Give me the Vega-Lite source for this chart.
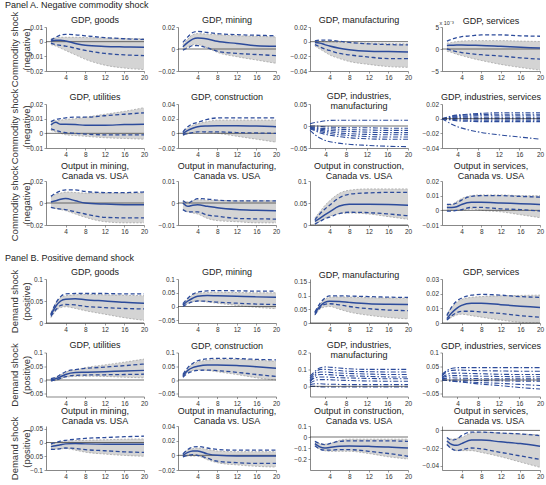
{
"$schema": "https://vega.github.io/schema/vega-lite/v6.json",
"padding": {"left": 5, "top": 1, "right": 2, "bottom": 0},
"autosize": {"type": "pad"},
"datasets": {
"irf": [
{"p":"a1","h":1,"lo":-0.002,"dl":-0.001,"m":0.0005,"du":0.001,"hi":0.002},
{"p":"a1","h":2,"lo":-0.003,"dl":-0.002,"m":0.001,"du":0.003,"hi":0.0025},
{"p":"a1","h":3,"lo":-0.0045,"dl":-0.0025,"m":0.001,"du":0.0045,"hi":0.003},
{"p":"a1","h":4,"lo":-0.006,"dl":-0.003,"m":0.0005,"du":0.005,"hi":0.003},
{"p":"a1","h":6,"lo":-0.009,"dl":-0.0045,"m":-0.0012,"du":0.0047,"hi":0.003},
{"p":"a1","h":8,"lo":-0.012,"dl":-0.006,"m":-0.0025,"du":0.004,"hi":0.0028},
{"p":"a1","h":12,"lo":-0.016,"dl":-0.008,"m":-0.0033,"du":0.0028,"hi":0.0025},
{"p":"a1","h":16,"lo":-0.018,"dl":-0.009,"m":-0.0036,"du":0.002,"hi":0.0022},
{"p":"a1","h":20,"lo":-0.019,"dl":-0.0095,"m":-0.0038,"du":0.0015,"hi":0.002},
{"p":"a2","h":1,"lo":-0.001,"dl":-0.001,"m":0.002,"du":0.006,"hi":0.004},
{"p":"a2","h":2,"lo":0.002,"dl":0.001,"m":0.006,"du":0.011,"hi":0.009},
{"p":"a2","h":3,"lo":0.004,"dl":0.003,"m":0.009,"du":0.015,"hi":0.013},
{"p":"a2","h":4,"lo":0.004,"dl":0.003,"m":0.010,"du":0.016,"hi":0.014},
{"p":"a2","h":6,"lo":0.001,"dl":0.001,"m":0.009,"du":0.015,"hi":0.0135},
{"p":"a2","h":8,"lo":-0.003,"dl":-0.002,"m":0.007,"du":0.014,"hi":0.013},
{"p":"a2","h":12,"lo":-0.007,"dl":-0.004,"m":0.005,"du":0.013,"hi":0.012},
{"p":"a2","h":16,"lo":-0.010,"dl":-0.005,"m":0.003,"du":0.0125,"hi":0.0115},
{"p":"a2","h":20,"lo":-0.013,"dl":-0.006,"m":0.0025,"du":0.012,"hi":0.011},
{"p":"a3","h":1,"lo":-0.006,"dl":-0.004,"m":-0.001,"du":0.001,"hi":0.0005},
{"p":"a3","h":2,"lo":-0.010,"dl":-0.007,"m":-0.002,"du":0.002,"hi":0.0005},
{"p":"a3","h":3,"lo":-0.014,"dl":-0.010,"m":-0.004,"du":0.002,"hi":0.0},
{"p":"a3","h":4,"lo":-0.018,"dl":-0.012,"m":-0.006,"du":0.002,"hi":0.0},
{"p":"a3","h":6,"lo":-0.023,"dl":-0.016,"m":-0.009,"du":0.0005,"hi":-0.001},
{"p":"a3","h":8,"lo":-0.027,"dl":-0.018,"m":-0.011,"du":-0.001,"hi":-0.0015},
{"p":"a3","h":12,"lo":-0.031,"dl":-0.021,"m":-0.013,"du":-0.003,"hi":-0.002},
{"p":"a3","h":16,"lo":-0.034,"dl":-0.023,"m":-0.0135,"du":-0.004,"hi":-0.0025},
{"p":"a3","h":20,"lo":-0.035,"dl":-0.023,"m":-0.014,"du":-0.0045,"hi":-0.003},
{"p":"a4","h":1,"lo":-0.5,"dl":0.0,"m":0.8,"du":1.8,"hi":1.3},
{"p":"a4","h":2,"lo":-0.8,"dl":-0.3,"m":0.85,"du":2.2,"hi":1.5},
{"p":"a4","h":3,"lo":-1.2,"dl":-0.6,"m":0.9,"du":2.6,"hi":1.7},
{"p":"a4","h":4,"lo":-1.5,"dl":-0.8,"m":0.9,"du":2.8,"hi":1.8},
{"p":"a4","h":6,"lo":-2.1,"dl":-1.1,"m":0.85,"du":3.0,"hi":1.9},
{"p":"a4","h":8,"lo":-2.6,"dl":-1.3,"m":0.8,"du":3.2,"hi":1.9},
{"p":"a4","h":12,"lo":-3.5,"dl":-1.6,"m":0.6,"du":3.2,"hi":1.9},
{"p":"a4","h":16,"lo":-4.2,"dl":-2.0,"m":0.4,"du":3.0,"hi":1.8},
{"p":"a4","h":20,"lo":-4.8,"dl":-2.3,"m":0.2,"du":2.9,"hi":1.7},
{"p":"a5","h":1,"lo":0.002,"dl":0.003,"m":0.0058,"du":0.008,"hi":0.008},
{"p":"a5","h":2,"lo":0.001,"dl":0.002,"m":0.0075,"du":0.0095,"hi":0.0085},
{"p":"a5","h":3,"lo":0.0,"dl":0.001,"m":0.0062,"du":0.010,"hi":0.009},
{"p":"a5","h":4,"lo":-0.001,"dl":0.0005,"m":0.0062,"du":0.0105,"hi":0.0095},
{"p":"a5","h":6,"lo":-0.0015,"dl":0.0,"m":0.006,"du":0.011,"hi":0.010},
{"p":"a5","h":8,"lo":-0.002,"dl":-0.0005,"m":0.0055,"du":0.011,"hi":0.011},
{"p":"a5","h":12,"lo":-0.003,"dl":-0.001,"m":0.0055,"du":0.012,"hi":0.013},
{"p":"a5","h":16,"lo":-0.0035,"dl":-0.001,"m":0.006,"du":0.013,"hi":0.015},
{"p":"a5","h":20,"lo":-0.004,"dl":-0.001,"m":0.0062,"du":0.014,"hi":0.0175},
{"p":"a6","h":1,"lo":-0.003,"dl":-0.002,"m":0.0,"du":0.002,"hi":0.002},
{"p":"a6","h":2,"lo":-0.001,"dl":0.0,"m":0.004,"du":0.009,"hi":0.007},
{"p":"a6","h":3,"lo":0.001,"dl":0.001,"m":0.007,"du":0.013,"hi":0.011},
{"p":"a6","h":4,"lo":0.002,"dl":0.002,"m":0.009,"du":0.015,"hi":0.013},
{"p":"a6","h":6,"lo":0.001,"dl":0.002,"m":0.010,"du":0.019,"hi":0.016},
{"p":"a6","h":8,"lo":0.0,"dl":0.002,"m":0.0105,"du":0.021,"hi":0.018},
{"p":"a6","h":12,"lo":-0.004,"dl":0.001,"m":0.0105,"du":0.021,"hi":0.018},
{"p":"a6","h":16,"lo":-0.008,"dl":0.0005,"m":0.010,"du":0.021,"hi":0.018},
{"p":"a6","h":20,"lo":-0.012,"dl":0.0,"m":0.009,"du":0.021,"hi":0.018},
{"p":"a9","h":1,"lo":-0.004,"dl":-0.004,"m":0.001,"du":0.006,"hi":0.005},
{"p":"a9","h":2,"lo":-0.005,"dl":-0.005,"m":0.002,"du":0.009,"hi":0.008},
{"p":"a9","h":3,"lo":-0.006,"dl":-0.0055,"m":0.0035,"du":0.011,"hi":0.009},
{"p":"a9","h":4,"lo":-0.007,"dl":-0.006,"m":0.004,"du":0.012,"hi":0.010},
{"p":"a9","h":6,"lo":-0.010,"dl":-0.008,"m":0.002,"du":0.012,"hi":0.0095},
{"p":"a9","h":8,"lo":-0.013,"dl":-0.010,"m":0.0,"du":0.0105,"hi":0.009},
{"p":"a9","h":12,"lo":-0.017,"dl":-0.013,"m":-0.001,"du":0.0095,"hi":0.009},
{"p":"a9","h":16,"lo":-0.018,"dl":-0.0135,"m":-0.0015,"du":0.0095,"hi":0.009},
{"p":"a9","h":20,"lo":-0.018,"dl":-0.0135,"m":-0.0015,"du":0.010,"hi":0.009},
{"p":"a10","h":1,"lo":-0.003,"dl":-0.003,"m":0.0,"du":0.001,"hi":0.001},
{"p":"a10","h":2,"lo":-0.004,"dl":-0.004,"m":-0.0015,"du":0.0,"hi":0.0005},
{"p":"a10","h":3,"lo":-0.0045,"dl":-0.004,"m":-0.001,"du":0.001,"hi":0.001},
{"p":"a10","h":4,"lo":-0.005,"dl":-0.004,"m":-0.0008,"du":0.002,"hi":0.0015},
{"p":"a10","h":6,"lo":-0.007,"dl":-0.0055,"m":-0.0015,"du":0.0018,"hi":0.0013},
{"p":"a10","h":8,"lo":-0.008,"dl":-0.006,"m":-0.0022,"du":0.0013,"hi":0.0012},
{"p":"a10","h":12,"lo":-0.0085,"dl":-0.007,"m":-0.003,"du":0.001,"hi":0.001},
{"p":"a10","h":16,"lo":-0.009,"dl":-0.0072,"m":-0.0033,"du":0.001,"hi":0.001},
{"p":"a10","h":20,"lo":-0.009,"dl":-0.0073,"m":-0.0035,"du":0.001,"hi":0.001},
{"p":"a11","h":1,"lo":0.003,"dl":0.002,"m":0.008,"du":0.012,"hi":0.016},
{"p":"a11","h":2,"lo":0.008,"dl":0.008,"m":0.015,"du":0.025,"hi":0.030},
{"p":"a11","h":3,"lo":0.015,"dl":0.014,"m":0.023,"du":0.036,"hi":0.044},
{"p":"a11","h":4,"lo":0.020,"dl":0.018,"m":0.030,"du":0.045,"hi":0.055},
{"p":"a11","h":6,"lo":0.026,"dl":0.026,"m":0.043,"du":0.062,"hi":0.072},
{"p":"a11","h":8,"lo":0.027,"dl":0.029,"m":0.047,"du":0.070,"hi":0.079},
{"p":"a11","h":12,"lo":0.025,"dl":0.028,"m":0.047,"du":0.073,"hi":0.082},
{"p":"a11","h":16,"lo":0.019,"dl":0.025,"m":0.0465,"du":0.074,"hi":0.082},
{"p":"a11","h":20,"lo":0.013,"dl":0.021,"m":0.045,"du":0.074,"hi":0.082},
{"p":"a12","h":1,"lo":0.0,"dl":-0.0005,"m":0.002,"du":0.004,"hi":0.003},
{"p":"a12","h":2,"lo":0.0,"dl":-0.0005,"m":0.002,"du":0.004,"hi":0.004},
{"p":"a12","h":3,"lo":0.0,"dl":0.0,"m":0.0025,"du":0.005,"hi":0.006},
{"p":"a12","h":4,"lo":0.0,"dl":0.0005,"m":0.004,"du":0.007,"hi":0.008},
{"p":"a12","h":6,"lo":0.001,"dl":0.002,"m":0.0055,"du":0.0095,"hi":0.010},
{"p":"a12","h":8,"lo":0.0,"dl":0.002,"m":0.0055,"du":0.010,"hi":0.0105},
{"p":"a12","h":12,"lo":-0.001,"dl":0.001,"m":0.005,"du":0.010,"hi":0.0105},
{"p":"a12","h":16,"lo":-0.003,"dl":0.0005,"m":0.0045,"du":0.0095,"hi":0.010},
{"p":"a12","h":20,"lo":-0.005,"dl":-0.0005,"m":0.004,"du":0.009,"hi":0.010},
{"p":"b1","h":1,"lo":0.012,"dl":0.015,"m":0.018,"du":0.020,"hi":0.022},
{"p":"b1","h":2,"lo":0.027,"dl":0.030,"m":0.038,"du":0.045,"hi":0.045},
{"p":"b1","h":3,"lo":0.035,"dl":0.040,"m":0.050,"du":0.060,"hi":0.058},
{"p":"b1","h":4,"lo":0.037,"dl":0.042,"m":0.054,"du":0.066,"hi":0.062},
{"p":"b1","h":6,"lo":0.033,"dl":0.041,"m":0.055,"du":0.067,"hi":0.064},
{"p":"b1","h":8,"lo":0.028,"dl":0.038,"m":0.053,"du":0.067,"hi":0.065},
{"p":"b1","h":12,"lo":0.020,"dl":0.035,"m":0.050,"du":0.067,"hi":0.064},
{"p":"b1","h":16,"lo":0.012,"dl":0.033,"m":0.047,"du":0.066,"hi":0.063},
{"p":"b1","h":20,"lo":0.006,"dl":0.032,"m":0.045,"du":0.066,"hi":0.062},
{"p":"b2","h":1,"lo":0.002,"dl":0.0,"m":0.005,"du":0.010,"hi":0.008},
{"p":"b2","h":2,"lo":0.012,"dl":0.010,"m":0.020,"du":0.030,"hi":0.028},
{"p":"b2","h":3,"lo":0.018,"dl":0.017,"m":0.030,"du":0.045,"hi":0.042},
{"p":"b2","h":4,"lo":0.020,"dl":0.020,"m":0.037,"du":0.052,"hi":0.048},
{"p":"b2","h":6,"lo":0.016,"dl":0.019,"m":0.040,"du":0.057,"hi":0.051},
{"p":"b2","h":8,"lo":0.012,"dl":0.016,"m":0.039,"du":0.058,"hi":0.052},
{"p":"b2","h":12,"lo":0.004,"dl":0.012,"m":0.037,"du":0.057,"hi":0.051},
{"p":"b2","h":16,"lo":-0.003,"dl":0.009,"m":0.035,"du":0.056,"hi":0.050},
{"p":"b2","h":20,"lo":-0.008,"dl":0.007,"m":0.034,"du":0.056,"hi":0.050},
{"p":"b3","h":1,"lo":0.028,"dl":0.030,"m":0.035,"du":0.040,"hi":0.040},
{"p":"b3","h":2,"lo":0.050,"dl":0.055,"m":0.060,"du":0.070,"hi":0.068},
{"p":"b3","h":3,"lo":0.058,"dl":0.068,"m":0.075,"du":0.090,"hi":0.086},
{"p":"b3","h":4,"lo":0.060,"dl":0.070,"m":0.079,"du":0.099,"hi":0.094},
{"p":"b3","h":6,"lo":0.050,"dl":0.066,"m":0.078,"du":0.099,"hi":0.095},
{"p":"b3","h":8,"lo":0.040,"dl":0.060,"m":0.075,"du":0.098,"hi":0.094},
{"p":"b3","h":12,"lo":0.028,"dl":0.052,"m":0.070,"du":0.096,"hi":0.092},
{"p":"b3","h":16,"lo":0.020,"dl":0.047,"m":0.068,"du":0.094,"hi":0.091},
{"p":"b3","h":20,"lo":0.015,"dl":0.045,"m":0.067,"du":0.093,"hi":0.090},
{"p":"b4","h":1,"lo":0.002,"dl":0.002,"m":0.003,"du":0.005,"hi":0.006},
{"p":"b4","h":2,"lo":0.004,"dl":0.005,"m":0.007,"du":0.011,"hi":0.011},
{"p":"b4","h":3,"lo":0.0055,"dl":0.007,"m":0.010,"du":0.015,"hi":0.014},
{"p":"b4","h":4,"lo":0.006,"dl":0.008,"m":0.012,"du":0.017,"hi":0.016},
{"p":"b4","h":6,"lo":0.005,"dl":0.008,"m":0.0135,"du":0.019,"hi":0.0175},
{"p":"b4","h":8,"lo":0.004,"dl":0.0075,"m":0.0135,"du":0.0195,"hi":0.018},
{"p":"b4","h":12,"lo":0.002,"dl":0.0065,"m":0.0125,"du":0.019,"hi":0.0185},
{"p":"b4","h":16,"lo":0.0005,"dl":0.005,"m":0.0115,"du":0.018,"hi":0.0188},
{"p":"b4","h":20,"lo":0.0,"dl":0.004,"m":0.0105,"du":0.0175,"hi":0.019},
{"p":"b5","h":1,"lo":-0.004,"dl":-0.003,"m":0.0,"du":0.005,"hi":0.004},
{"p":"b5","h":2,"lo":-0.002,"dl":0.0,"m":0.005,"du":0.010,"hi":0.010},
{"p":"b5","h":3,"lo":0.004,"dl":0.006,"m":0.012,"du":0.020,"hi":0.019},
{"p":"b5","h":4,"lo":0.010,"dl":0.012,"m":0.020,"du":0.030,"hi":0.028},
{"p":"b5","h":6,"lo":0.013,"dl":0.017,"m":0.027,"du":0.038,"hi":0.037},
{"p":"b5","h":8,"lo":0.014,"dl":0.018,"m":0.028,"du":0.042,"hi":0.045},
{"p":"b5","h":12,"lo":0.013,"dl":0.019,"m":0.030,"du":0.047,"hi":0.055},
{"p":"b5","h":16,"lo":0.010,"dl":0.020,"m":0.033,"du":0.052,"hi":0.065},
{"p":"b5","h":20,"lo":0.008,"dl":0.021,"m":0.035,"du":0.058,"hi":0.076},
{"p":"b6","h":1,"lo":0.012,"dl":0.010,"m":0.015,"du":0.020,"hi":0.018},
{"p":"b6","h":2,"lo":0.028,"dl":0.025,"m":0.035,"du":0.045,"hi":0.042},
{"p":"b6","h":3,"lo":0.035,"dl":0.032,"m":0.045,"du":0.060,"hi":0.057},
{"p":"b6","h":4,"lo":0.037,"dl":0.035,"m":0.050,"du":0.070,"hi":0.065},
{"p":"b6","h":6,"lo":0.035,"dl":0.036,"m":0.055,"du":0.077,"hi":0.072},
{"p":"b6","h":8,"lo":0.030,"dl":0.034,"m":0.055,"du":0.079,"hi":0.075},
{"p":"b6","h":12,"lo":0.020,"dl":0.028,"m":0.053,"du":0.078,"hi":0.075},
{"p":"b6","h":16,"lo":0.008,"dl":0.020,"m":0.048,"du":0.075,"hi":0.072},
{"p":"b6","h":20,"lo":0.0,"dl":0.013,"m":0.043,"du":0.073,"hi":0.068},
{"p":"b9","h":1,"lo":-0.022,"dl":-0.025,"m":-0.015,"du":-0.005,"hi":-0.008},
{"p":"b9","h":2,"lo":-0.024,"dl":-0.025,"m":-0.012,"du":0.0,"hi":-0.002},
{"p":"b9","h":3,"lo":-0.023,"dl":-0.022,"m":-0.008,"du":0.005,"hi":0.003},
{"p":"b9","h":4,"lo":-0.022,"dl":-0.020,"m":-0.005,"du":0.008,"hi":0.005},
{"p":"b9","h":6,"lo":-0.028,"dl":-0.022,"m":-0.004,"du":0.012,"hi":0.007},
{"p":"b9","h":8,"lo":-0.035,"dl":-0.026,"m":-0.005,"du":0.015,"hi":0.008},
{"p":"b9","h":12,"lo":-0.042,"dl":-0.030,"m":-0.006,"du":0.018,"hi":0.010},
{"p":"b9","h":16,"lo":-0.047,"dl":-0.034,"m":-0.006,"du":0.021,"hi":0.012},
{"p":"b9","h":20,"lo":-0.050,"dl":-0.036,"m":-0.006,"du":0.023,"hi":0.013},
{"p":"b10","h":1,"lo":-0.002,"dl":-0.002,"m":0.0,"du":0.002,"hi":0.002},
{"p":"b10","h":2,"lo":-0.001,"dl":0.0,"m":0.004,"du":0.008,"hi":0.007},
{"p":"b10","h":3,"lo":-0.001,"dl":0.001,"m":0.006,"du":0.011,"hi":0.009},
{"p":"b10","h":4,"lo":-0.001,"dl":0.0,"m":0.006,"du":0.012,"hi":0.010},
{"p":"b10","h":6,"lo":-0.006,"dl":-0.004,"m":0.002,"du":0.010,"hi":0.008},
{"p":"b10","h":8,"lo":-0.010,"dl":-0.008,"m":0.0,"du":0.008,"hi":0.006},
{"p":"b10","h":12,"lo":-0.013,"dl":-0.010,"m":-0.001,"du":0.007,"hi":0.005},
{"p":"b10","h":16,"lo":-0.015,"dl":-0.011,"m":-0.001,"du":0.007,"hi":0.005},
{"p":"b10","h":20,"lo":-0.016,"dl":-0.011,"m":-0.001,"du":0.007,"hi":0.005},
{"p":"b11","h":1,"lo":-0.08,"dl":-0.08,"m":-0.06,"du":-0.04,"hi":-0.04},
{"p":"b11","h":2,"lo":-0.11,"dl":-0.11,"m":-0.09,"du":-0.06,"hi":-0.06},
{"p":"b11","h":3,"lo":-0.125,"dl":-0.12,"m":-0.10,"du":-0.07,"hi":-0.065},
{"p":"b11","h":4,"lo":-0.13,"dl":-0.12,"m":-0.095,"du":-0.06,"hi":-0.06},
{"p":"b11","h":6,"lo":-0.13,"dl":-0.115,"m":-0.085,"du":-0.04,"hi":-0.03},
{"p":"b11","h":8,"lo":-0.13,"dl":-0.115,"m":-0.082,"du":-0.035,"hi":-0.02},
{"p":"b11","h":12,"lo":-0.15,"dl":-0.13,"m":-0.085,"du":-0.035,"hi":-0.02},
{"p":"b11","h":16,"lo":-0.18,"dl":-0.15,"m":-0.09,"du":-0.035,"hi":-0.02},
{"p":"b11","h":20,"lo":-0.20,"dl":-0.175,"m":-0.10,"du":-0.04,"hi":-0.02},
{"p":"b12","h":1,"lo":-0.016,"dl":-0.016,"m":-0.012,"du":-0.008,"hi":-0.008},
{"p":"b12","h":2,"lo":-0.021,"dl":-0.021,"m":-0.016,"du":-0.011,"hi":-0.010},
{"p":"b12","h":3,"lo":-0.023,"dl":-0.023,"m":-0.017,"du":-0.010,"hi":-0.009},
{"p":"b12","h":4,"lo":-0.023,"dl":-0.022,"m":-0.015,"du":-0.006,"hi":-0.008},
{"p":"b12","h":6,"lo":-0.023,"dl":-0.020,"m":-0.011,"du":-0.002,"hi":-0.003},
{"p":"b12","h":8,"lo":-0.025,"dl":-0.021,"m":-0.011,"du":-0.002,"hi":-0.002},
{"p":"b12","h":12,"lo":-0.030,"dl":-0.025,"m":-0.013,"du":-0.003,"hi":-0.003},
{"p":"b12","h":16,"lo":-0.036,"dl":-0.029,"m":-0.015,"du":-0.004,"hi":-0.004},
{"p":"b12","h":20,"lo":-0.042,"dl":-0.033,"m":-0.018,"du":-0.006,"hi":-0.005}
],
"ind": [
{"p":"a7","h":1,"i1":0.005,"i2":0.0,"i3":-0.002,"i4":-0.003,"i5":-0.004,"i6":-0.005,"i7":-0.006,"i8":-0.010},
{"p":"a7","h":2,"i1":0.008,"i2":0.0,"i3":-0.003,"i4":-0.005,"i5":-0.007,"i6":-0.009,"i7":-0.011,"i8":-0.020},
{"p":"a7","h":3,"i1":0.010,"i2":-0.001,"i3":-0.005,"i4":-0.007,"i5":-0.010,"i6":-0.013,"i7":-0.016,"i8":-0.028},
{"p":"a7","h":4,"i1":0.012,"i2":-0.002,"i3":-0.006,"i4":-0.009,"i5":-0.012,"i6":-0.015,"i7":-0.019,"i8":-0.033},
{"p":"a7","h":6,"i1":0.013,"i2":-0.003,"i3":-0.007,"i4":-0.011,"i5":-0.015,"i6":-0.019,"i7":-0.023,"i8":-0.038},
{"p":"a7","h":8,"i1":0.013,"i2":-0.004,"i3":-0.008,"i4":-0.012,"i5":-0.017,"i6":-0.021,"i7":-0.026,"i8":-0.041},
{"p":"a7","h":12,"i1":0.013,"i2":-0.004,"i3":-0.009,"i4":-0.014,"i5":-0.019,"i6":-0.024,"i7":-0.029,"i8":-0.044},
{"p":"a7","h":16,"i1":0.013,"i2":-0.005,"i3":-0.010,"i4":-0.015,"i5":-0.020,"i6":-0.025,"i7":-0.030,"i8":-0.046},
{"p":"a7","h":20,"i1":0.013,"i2":-0.005,"i3":-0.010,"i4":-0.015,"i5":-0.020,"i6":-0.025,"i7":-0.030,"i8":-0.047},
{"p":"a8","h":1,"i1":0.0,"i2":0.0,"i3":0.0,"i4":0.0,"i5":0.0,"i6":0.0,"i7":0.0,"i8":0.0},
{"p":"a8","h":2,"i1":0.002,"i2":0.001,"i3":0.001,"i4":0.0005,"i5":0.0,"i6":-0.0005,"i7":-0.001,"i8":-0.004},
{"p":"a8","h":3,"i1":0.004,"i2":0.003,"i3":0.002,"i4":0.001,"i5":0.0,"i6":-0.001,"i7":-0.002,"i8":-0.008},
{"p":"a8","h":4,"i1":0.005,"i2":0.004,"i3":0.003,"i4":0.0015,"i5":0.0,"i6":-0.0015,"i7":-0.003,"i8":-0.011},
{"p":"a8","h":6,"i1":0.006,"i2":0.005,"i3":0.0035,"i4":0.002,"i5":0.0,"i6":-0.002,"i7":-0.0035,"i8":-0.015},
{"p":"a8","h":8,"i1":0.007,"i2":0.0055,"i3":0.004,"i4":0.002,"i5":0.0,"i6":-0.002,"i7":-0.004,"i8":-0.018},
{"p":"a8","h":12,"i1":0.008,"i2":0.006,"i3":0.004,"i4":0.002,"i5":0.0,"i6":-0.002,"i7":-0.004,"i8":-0.022},
{"p":"a8","h":16,"i1":0.008,"i2":0.006,"i3":0.004,"i4":0.002,"i5":0.0,"i6":-0.002,"i7":-0.004,"i8":-0.025},
{"p":"a8","h":20,"i1":0.008,"i2":0.006,"i3":0.004,"i4":0.002,"i5":0.0,"i6":-0.002,"i7":-0.004,"i8":-0.028},
{"p":"b7","h":1,"i1":0.06,"i2":0.05,"i3":0.04,"i4":0.03,"i5":0.03,"i6":0.02,"i7":0.01,"i8":0.0},
{"p":"b7","h":2,"i1":0.09,"i2":0.08,"i3":0.07,"i4":0.06,"i5":0.05,"i6":0.035,"i7":0.015,"i8":0.0},
{"p":"b7","h":3,"i1":0.11,"i2":0.10,"i3":0.085,"i4":0.07,"i5":0.055,"i6":0.04,"i7":0.015,"i8":-0.003},
{"p":"b7","h":4,"i1":0.115,"i2":0.10,"i3":0.085,"i4":0.07,"i5":0.055,"i6":0.04,"i7":0.013,"i8":-0.004},
{"p":"b7","h":6,"i1":0.11,"i2":0.095,"i3":0.08,"i4":0.066,"i5":0.052,"i6":0.037,"i7":0.012,"i8":-0.004},
{"p":"b7","h":8,"i1":0.105,"i2":0.09,"i3":0.077,"i4":0.063,"i5":0.05,"i6":0.035,"i7":0.01,"i8":-0.004},
{"p":"b7","h":12,"i1":0.10,"i2":0.087,"i3":0.073,"i4":0.059,"i5":0.047,"i6":0.032,"i7":0.01,"i8":-0.004},
{"p":"b7","h":16,"i1":0.10,"i2":0.085,"i3":0.07,"i4":0.056,"i5":0.045,"i6":0.03,"i7":0.01,"i8":-0.004},
{"p":"b7","h":20,"i1":0.10,"i2":0.085,"i3":0.07,"i4":0.055,"i5":0.045,"i6":0.03,"i7":0.01,"i8":-0.004},
{"p":"b8","h":1,"i1":0.02,"i2":0.015,"i3":0.01,"i4":0.008,"i5":0.005,"i6":0.0,"i7":0.0,"i8":0.0},
{"p":"b8","h":2,"i1":0.035,"i2":0.03,"i3":0.02,"i4":0.014,"i5":0.007,"i6":0.0,"i7":-0.002,"i8":-0.002},
{"p":"b8","h":3,"i1":0.043,"i2":0.035,"i3":0.025,"i4":0.016,"i5":0.008,"i6":0.0,"i7":-0.004,"i8":-0.004},
{"p":"b8","h":4,"i1":0.045,"i2":0.036,"i3":0.025,"i4":0.016,"i5":0.007,"i6":0.0,"i7":-0.005,"i8":-0.006},
{"p":"b8","h":6,"i1":0.045,"i2":0.035,"i3":0.024,"i4":0.015,"i5":0.006,"i6":-0.001,"i7":-0.007,"i8":-0.010},
{"p":"b8","h":8,"i1":0.045,"i2":0.034,"i3":0.023,"i4":0.014,"i5":0.005,"i6":-0.002,"i7":-0.009,"i8":-0.014},
{"p":"b8","h":12,"i1":0.045,"i2":0.033,"i3":0.021,"i4":0.013,"i5":0.004,"i6":-0.003,"i7":-0.012,"i8":-0.020},
{"p":"b8","h":16,"i1":0.045,"i2":0.032,"i3":0.02,"i4":0.012,"i5":0.004,"i6":-0.004,"i7":-0.016,"i8":-0.027},
{"p":"b8","h":20,"i1":0.045,"i2":0.032,"i3":0.02,"i4":0.012,"i5":0.004,"i6":-0.004,"i7":-0.020,"i8":-0.033}
]
},
"data": {"name": "irf"},
"spacing": 12,
"vconcat": [
{
"title": {"text": "Panel A. Negative commodity shock", "anchor": "start", "frame": "bounds", "offset": 1, "dx": -4},
"columns": 4, "bounds": "flush", "spacing": {"row": 33, "column": 34},
"concat": [
{"title": {"text": "GDP, goods", "offset": -13.5}, "transform": [{"filter": "datum.p=='a1'"}], "layer": [
 {"mark": {"type": "area", "style": "band"}, "encoding": {"x": {"field": "h", "type": "quantitative", "scale": {"domain": [1, 20]}, "axis": {"values": [4, 8, 12, 16, 20]}, "title": null}, "y": {"field": "lo", "type": "quantitative", "scale": {"domain": [-0.02, 0.01]}, "axis": {"values": [-0.02, -0.01, 0, 0.01]}, "title": ["Commodity shock", "(negative)"]}, "y2": {"field": "hi"}}},
 {"transform": [{"fold": ["lo", "hi"]}], "mark": {"type": "line", "style": "edge"}, "encoding": {"x": {"field": "h", "type": "quantitative", "title": null}, "y": {"field": "value", "type": "quantitative", "title": ["Commodity shock", "(negative)"]}, "detail": {"field": "key"}}},
 {"transform": [{"aggregate": [{"op": "count", "as": "n"}]}], "mark": {"type": "rule", "style": "zero"}, "encoding": {"y": {"datum": 0, "type": "quantitative", "title": ["Commodity shock", "(negative)"]}}},
 {"transform": [{"fold": ["dl", "du"]}], "mark": {"type": "line", "style": "dash"}, "encoding": {"x": {"field": "h", "type": "quantitative", "title": null}, "y": {"field": "value", "type": "quantitative", "title": ["Commodity shock", "(negative)"]}, "detail": {"field": "key"}}},
 {"mark": {"type": "line", "style": "med"}, "encoding": {"x": {"field": "h", "type": "quantitative", "title": null}, "y": {"field": "m", "type": "quantitative", "title": ["Commodity shock", "(negative)"]}}}
]},
{"title": "GDP, mining", "transform": [{"filter": "datum.p=='a2'"}], "layer": [
 {"mark": {"type": "area", "style": "band"}, "encoding": {"x": {"field": "h", "type": "quantitative", "scale": {"domain": [1, 20]}, "axis": {"values": [4, 8, 12, 16, 20]}, "title": null}, "y": {"field": "lo", "type": "quantitative", "scale": {"domain": [-0.02, 0.02]}, "axis": {"values": [-0.02, 0, 0.02]}, "title": null}, "y2": {"field": "hi"}}},
 {"transform": [{"fold": ["lo", "hi"]}], "mark": {"type": "line", "style": "edge"}, "encoding": {"x": {"field": "h", "type": "quantitative", "title": null}, "y": {"field": "value", "type": "quantitative", "title": null}, "detail": {"field": "key"}}},
 {"transform": [{"aggregate": [{"op": "count", "as": "n"}]}], "mark": {"type": "rule", "style": "zero"}, "encoding": {"y": {"datum": 0, "type": "quantitative", "title": null}}},
 {"transform": [{"fold": ["dl", "du"]}], "mark": {"type": "line", "style": "dash"}, "encoding": {"x": {"field": "h", "type": "quantitative", "title": null}, "y": {"field": "value", "type": "quantitative", "title": null}, "detail": {"field": "key"}}},
 {"mark": {"type": "line", "style": "med"}, "encoding": {"x": {"field": "h", "type": "quantitative", "title": null}, "y": {"field": "m", "type": "quantitative", "title": null}}}
]},
{"title": "GDP, manufacturing", "transform": [{"filter": "datum.p=='a3'"}], "layer": [
 {"mark": {"type": "area", "style": "band"}, "encoding": {"x": {"field": "h", "type": "quantitative", "scale": {"domain": [1, 20]}, "axis": {"values": [4, 8, 12, 16, 20]}, "title": null}, "y": {"field": "lo", "type": "quantitative", "scale": {"domain": [-0.04, 0.02]}, "axis": {"values": [-0.04, -0.02, 0, 0.02]}, "title": null}, "y2": {"field": "hi"}}},
 {"transform": [{"fold": ["lo", "hi"]}], "mark": {"type": "line", "style": "edge"}, "encoding": {"x": {"field": "h", "type": "quantitative", "title": null}, "y": {"field": "value", "type": "quantitative", "title": null}, "detail": {"field": "key"}}},
 {"transform": [{"aggregate": [{"op": "count", "as": "n"}]}], "mark": {"type": "rule", "style": "zero"}, "encoding": {"y": {"datum": 0, "type": "quantitative", "title": null}}},
 {"transform": [{"fold": ["dl", "du"]}], "mark": {"type": "line", "style": "dash"}, "encoding": {"x": {"field": "h", "type": "quantitative", "title": null}, "y": {"field": "value", "type": "quantitative", "title": null}, "detail": {"field": "key"}}},
 {"mark": {"type": "line", "style": "med"}, "encoding": {"x": {"field": "h", "type": "quantitative", "title": null}, "y": {"field": "m", "type": "quantitative", "title": null}}}
]},
{"title": {"text": "GDP, services", "offset": -6}, "transform": [{"filter": "datum.p=='a4'"}], "layer": [
 {"mark": {"type": "area", "style": "band"}, "encoding": {"x": {"field": "h", "type": "quantitative", "scale": {"domain": [1, 20]}, "axis": {"values": [4, 8, 12, 16, 20]}, "title": null}, "y": {"field": "lo", "type": "quantitative", "scale": {"domain": [-5, 5]}, "axis": {"values": [-5, 0, 5], "titleAngle": 0, "titleX": -3, "titleY": -2, "titleAlign": "left", "titleBaseline": "bottom", "titleFontSize": 5.5}, "title": "x 10⁻³"}, "y2": {"field": "hi"}}},
 {"transform": [{"fold": ["lo", "hi"]}], "mark": {"type": "line", "style": "edge"}, "encoding": {"x": {"field": "h", "type": "quantitative", "title": null}, "y": {"field": "value", "type": "quantitative", "title": "x 10⁻³"}, "detail": {"field": "key"}}},
 {"transform": [{"aggregate": [{"op": "count", "as": "n"}]}], "mark": {"type": "rule", "style": "zero"}, "encoding": {"y": {"datum": 0, "type": "quantitative", "title": "x 10⁻³"}}},
 {"transform": [{"fold": ["dl", "du"]}], "mark": {"type": "line", "style": "dash"}, "encoding": {"x": {"field": "h", "type": "quantitative", "title": null}, "y": {"field": "value", "type": "quantitative", "title": "x 10⁻³"}, "detail": {"field": "key"}}},
 {"mark": {"type": "line", "style": "med"}, "encoding": {"x": {"field": "h", "type": "quantitative", "title": null}, "y": {"field": "m", "type": "quantitative", "title": "x 10⁻³"}}}
]},
{"title": {"text": "GDP, utilities", "offset": -13.5}, "transform": [{"filter": "datum.p=='a5'"}], "layer": [
 {"mark": {"type": "area", "style": "band"}, "encoding": {"x": {"field": "h", "type": "quantitative", "scale": {"domain": [1, 20]}, "axis": {"values": [4, 8, 12, 16, 20]}, "title": null}, "y": {"field": "lo", "type": "quantitative", "scale": {"domain": [-0.01, 0.02]}, "axis": {"values": [-0.01, 0, 0.01, 0.02]}, "title": ["Commodity shock", "(negative)"]}, "y2": {"field": "hi"}}},
 {"transform": [{"fold": ["lo", "hi"]}], "mark": {"type": "line", "style": "edge"}, "encoding": {"x": {"field": "h", "type": "quantitative", "title": null}, "y": {"field": "value", "type": "quantitative", "title": ["Commodity shock", "(negative)"]}, "detail": {"field": "key"}}},
 {"transform": [{"aggregate": [{"op": "count", "as": "n"}]}], "mark": {"type": "rule", "style": "zero"}, "encoding": {"y": {"datum": 0, "type": "quantitative", "title": ["Commodity shock", "(negative)"]}}},
 {"transform": [{"fold": ["dl", "du"]}], "mark": {"type": "line", "style": "dash"}, "encoding": {"x": {"field": "h", "type": "quantitative", "title": null}, "y": {"field": "value", "type": "quantitative", "title": ["Commodity shock", "(negative)"]}, "detail": {"field": "key"}}},
 {"mark": {"type": "line", "style": "med"}, "encoding": {"x": {"field": "h", "type": "quantitative", "title": null}, "y": {"field": "m", "type": "quantitative", "title": ["Commodity shock", "(negative)"]}}}
]},
{"title": "GDP, construction", "transform": [{"filter": "datum.p=='a6'"}], "layer": [
 {"mark": {"type": "area", "style": "band"}, "encoding": {"x": {"field": "h", "type": "quantitative", "scale": {"domain": [1, 20]}, "axis": {"values": [4, 8, 12, 16, 20]}, "title": null}, "y": {"field": "lo", "type": "quantitative", "scale": {"domain": [-0.02, 0.04]}, "axis": {"values": [-0.02, 0, 0.02, 0.04]}, "title": null}, "y2": {"field": "hi"}}},
 {"transform": [{"fold": ["lo", "hi"]}], "mark": {"type": "line", "style": "edge"}, "encoding": {"x": {"field": "h", "type": "quantitative", "title": null}, "y": {"field": "value", "type": "quantitative", "title": null}, "detail": {"field": "key"}}},
 {"transform": [{"aggregate": [{"op": "count", "as": "n"}]}], "mark": {"type": "rule", "style": "zero"}, "encoding": {"y": {"datum": 0, "type": "quantitative", "title": null}}},
 {"transform": [{"fold": ["dl", "du"]}], "mark": {"type": "line", "style": "dash"}, "encoding": {"x": {"field": "h", "type": "quantitative", "title": null}, "y": {"field": "value", "type": "quantitative", "title": null}, "detail": {"field": "key"}}},
 {"mark": {"type": "line", "style": "med"}, "encoding": {"x": {"field": "h", "type": "quantitative", "title": null}, "y": {"field": "m", "type": "quantitative", "title": null}}}
]},
{"title": {"text": ["GDP, industries,", "manufacturing"], "offset": -10}, "data": {"name": "ind"}, "transform": [{"filter": "datum.p=='a7'"}, {"fold": ["i1", "i2", "i3", "i4", "i5", "i6", "i7", "i8"]}], "layer": [
 {"mark": {"type": "line", "style": "ind"}, "encoding": {"x": {"field": "h", "type": "quantitative", "scale": {"domain": [1, 20]}, "axis": {"values": [4, 8, 12, 16, 20]}, "title": null}, "y": {"field": "value", "type": "quantitative", "scale": {"domain": [-0.05, 0.05]}, "axis": {"values": [-0.05, 0, 0.05]}, "title": null}, "detail": {"field": "key"}}},
 {"transform": [{"aggregate": [{"op": "count", "as": "n"}]}], "mark": {"type": "rule", "style": "zero"}, "encoding": {"y": {"datum": 0, "type": "quantitative", "title": null}}}
]},
{"title": "GDP, industries, services", "data": {"name": "ind"}, "transform": [{"filter": "datum.p=='a8'"}, {"fold": ["i1", "i2", "i3", "i4", "i5", "i6", "i7", "i8"]}], "layer": [
 {"mark": {"type": "line", "style": "ind"}, "encoding": {"x": {"field": "h", "type": "quantitative", "scale": {"domain": [1, 20]}, "axis": {"values": [4, 8, 12, 16, 20]}, "title": null}, "y": {"field": "value", "type": "quantitative", "scale": {"domain": [-0.04, 0.02]}, "axis": {"values": [-0.04, -0.02, 0, 0.02]}, "title": null}, "detail": {"field": "key"}}},
 {"transform": [{"aggregate": [{"op": "count", "as": "n"}]}], "mark": {"type": "rule", "style": "zero"}, "encoding": {"y": {"datum": 0, "type": "quantitative", "title": null}}}
]},
{"title": {"text": ["Output in mining,", "Canada vs. USA"], "offset": -15.5}, "transform": [{"filter": "datum.p=='a9'"}], "layer": [
 {"mark": {"type": "area", "style": "band"}, "encoding": {"x": {"field": "h", "type": "quantitative", "scale": {"domain": [1, 20]}, "axis": {"values": [4, 8, 12, 16, 20]}, "title": null}, "y": {"field": "lo", "type": "quantitative", "scale": {"domain": [-0.02, 0.02]}, "axis": {"values": [-0.02, 0, 0.02]}, "title": ["Commodity shock", "(negative)"]}, "y2": {"field": "hi"}}},
 {"transform": [{"fold": ["lo", "hi"]}], "mark": {"type": "line", "style": "edge"}, "encoding": {"x": {"field": "h", "type": "quantitative", "title": null}, "y": {"field": "value", "type": "quantitative", "title": ["Commodity shock", "(negative)"]}, "detail": {"field": "key"}}},
 {"transform": [{"aggregate": [{"op": "count", "as": "n"}]}], "mark": {"type": "rule", "style": "zero"}, "encoding": {"y": {"datum": 0, "type": "quantitative", "title": ["Commodity shock", "(negative)"]}}},
 {"transform": [{"fold": ["dl", "du"]}], "mark": {"type": "line", "style": "dash"}, "encoding": {"x": {"field": "h", "type": "quantitative", "title": null}, "y": {"field": "value", "type": "quantitative", "title": ["Commodity shock", "(negative)"]}, "detail": {"field": "key"}}},
 {"mark": {"type": "line", "style": "med"}, "encoding": {"x": {"field": "h", "type": "quantitative", "title": null}, "y": {"field": "m", "type": "quantitative", "title": ["Commodity shock", "(negative)"]}}}
]},
{"title": {"text": ["Output in manufacturing,", "Canada vs. USA"], "offset": -3}, "transform": [{"filter": "datum.p=='a10'"}], "layer": [
 {"mark": {"type": "area", "style": "band"}, "encoding": {"x": {"field": "h", "type": "quantitative", "scale": {"domain": [1, 20]}, "axis": {"values": [4, 8, 12, 16, 20]}, "title": null}, "y": {"field": "lo", "type": "quantitative", "scale": {"domain": [-0.01, 0.01]}, "axis": {"values": [-0.01, 0, 0.01]}, "title": null}, "y2": {"field": "hi"}}},
 {"transform": [{"fold": ["lo", "hi"]}], "mark": {"type": "line", "style": "edge"}, "encoding": {"x": {"field": "h", "type": "quantitative", "title": null}, "y": {"field": "value", "type": "quantitative", "title": null}, "detail": {"field": "key"}}},
 {"transform": [{"aggregate": [{"op": "count", "as": "n"}]}], "mark": {"type": "rule", "style": "zero"}, "encoding": {"y": {"datum": 0, "type": "quantitative", "title": null}}},
 {"transform": [{"fold": ["dl", "du"]}], "mark": {"type": "line", "style": "dash"}, "encoding": {"x": {"field": "h", "type": "quantitative", "title": null}, "y": {"field": "value", "type": "quantitative", "title": null}, "detail": {"field": "key"}}},
 {"mark": {"type": "line", "style": "med"}, "encoding": {"x": {"field": "h", "type": "quantitative", "title": null}, "y": {"field": "m", "type": "quantitative", "title": null}}}
]},
{"title": {"text": ["Output in construction,", "Canada vs. USA"], "offset": -3}, "transform": [{"filter": "datum.p=='a11'"}], "layer": [
 {"mark": {"type": "area", "style": "band"}, "encoding": {"x": {"field": "h", "type": "quantitative", "scale": {"domain": [1, 20]}, "axis": {"values": [4, 8, 12, 16, 20]}, "title": null}, "y": {"field": "lo", "type": "quantitative", "scale": {"domain": [0, 0.1]}, "axis": {"values": [0, 0.05, 0.1]}, "title": null}, "y2": {"field": "hi"}}},
 {"transform": [{"fold": ["lo", "hi"]}], "mark": {"type": "line", "style": "edge"}, "encoding": {"x": {"field": "h", "type": "quantitative", "title": null}, "y": {"field": "value", "type": "quantitative", "title": null}, "detail": {"field": "key"}}},
 {"transform": [{"aggregate": [{"op": "count", "as": "n"}]}], "mark": {"type": "rule", "style": "zero"}, "encoding": {"y": {"datum": 0, "type": "quantitative", "title": null}}},
 {"transform": [{"fold": ["dl", "du"]}], "mark": {"type": "line", "style": "dash"}, "encoding": {"x": {"field": "h", "type": "quantitative", "title": null}, "y": {"field": "value", "type": "quantitative", "title": null}, "detail": {"field": "key"}}},
 {"mark": {"type": "line", "style": "med"}, "encoding": {"x": {"field": "h", "type": "quantitative", "title": null}, "y": {"field": "m", "type": "quantitative", "title": null}}}
]},
{"title": {"text": ["Output in services,", "Canada vs. USA"], "offset": -3}, "transform": [{"filter": "datum.p=='a12'"}], "layer": [
 {"mark": {"type": "area", "style": "band"}, "encoding": {"x": {"field": "h", "type": "quantitative", "scale": {"domain": [1, 20]}, "axis": {"values": [4, 8, 12, 16, 20]}, "title": null}, "y": {"field": "lo", "type": "quantitative", "scale": {"domain": [-0.01, 0.02]}, "axis": {"values": [-0.01, 0, 0.01, 0.02]}, "title": null}, "y2": {"field": "hi"}}},
 {"transform": [{"fold": ["lo", "hi"]}], "mark": {"type": "line", "style": "edge"}, "encoding": {"x": {"field": "h", "type": "quantitative", "title": null}, "y": {"field": "value", "type": "quantitative", "title": null}, "detail": {"field": "key"}}},
 {"transform": [{"aggregate": [{"op": "count", "as": "n"}]}], "mark": {"type": "rule", "style": "zero"}, "encoding": {"y": {"datum": 0, "type": "quantitative", "title": null}}},
 {"transform": [{"fold": ["dl", "du"]}], "mark": {"type": "line", "style": "dash"}, "encoding": {"x": {"field": "h", "type": "quantitative", "title": null}, "y": {"field": "value", "type": "quantitative", "title": null}, "detail": {"field": "key"}}},
 {"mark": {"type": "line", "style": "med"}, "encoding": {"x": {"field": "h", "type": "quantitative", "title": null}, "y": {"field": "m", "type": "quantitative", "title": null}}}
]}
]
},
{
"title": {"text": "Panel B. Positive demand shock", "anchor": "start", "frame": "bounds", "offset": 5, "dx": -4},
"columns": 4, "bounds": "flush", "spacing": {"row": 29.5, "column": 34},
"concat": [
{"title": {"text": "GDP, goods", "offset": -7.4}, "transform": [{"filter": "datum.p=='b1'"}], "layer": [
 {"mark": {"type": "area", "style": "band"}, "encoding": {"x": {"field": "h", "type": "quantitative", "scale": {"domain": [1, 20]}, "axis": {"values": [4, 8, 12, 16, 20]}, "title": null}, "y": {"field": "lo", "type": "quantitative", "scale": {"domain": [0, 0.1]}, "axis": {"values": [0, 0.05, 0.1]}, "title": ["Demand shock", "(positive)"]}, "y2": {"field": "hi"}}},
 {"transform": [{"fold": ["lo", "hi"]}], "mark": {"type": "line", "style": "edge"}, "encoding": {"x": {"field": "h", "type": "quantitative", "title": null}, "y": {"field": "value", "type": "quantitative", "title": ["Demand shock", "(positive)"]}, "detail": {"field": "key"}}},
 {"transform": [{"aggregate": [{"op": "count", "as": "n"}]}], "mark": {"type": "rule", "style": "zero"}, "encoding": {"y": {"datum": 0, "type": "quantitative", "title": ["Demand shock", "(positive)"]}}},
 {"transform": [{"fold": ["dl", "du"]}], "mark": {"type": "line", "style": "dash"}, "encoding": {"x": {"field": "h", "type": "quantitative", "title": null}, "y": {"field": "value", "type": "quantitative", "title": ["Demand shock", "(positive)"]}, "detail": {"field": "key"}}},
 {"mark": {"type": "line", "style": "med"}, "encoding": {"x": {"field": "h", "type": "quantitative", "title": null}, "y": {"field": "m", "type": "quantitative", "title": ["Demand shock", "(positive)"]}}}
]},
{"title": "GDP, mining", "transform": [{"filter": "datum.p=='b2'"}], "layer": [
 {"mark": {"type": "area", "style": "band"}, "encoding": {"x": {"field": "h", "type": "quantitative", "scale": {"domain": [1, 20]}, "axis": {"values": [4, 8, 12, 16, 20]}, "title": null}, "y": {"field": "lo", "type": "quantitative", "scale": {"domain": [-0.05, 0.1]}, "axis": {"values": [-0.05, 0, 0.05, 0.1]}, "title": null}, "y2": {"field": "hi"}}},
 {"transform": [{"fold": ["lo", "hi"]}], "mark": {"type": "line", "style": "edge"}, "encoding": {"x": {"field": "h", "type": "quantitative", "title": null}, "y": {"field": "value", "type": "quantitative", "title": null}, "detail": {"field": "key"}}},
 {"transform": [{"aggregate": [{"op": "count", "as": "n"}]}], "mark": {"type": "rule", "style": "zero"}, "encoding": {"y": {"datum": 0, "type": "quantitative", "title": null}}},
 {"transform": [{"fold": ["dl", "du"]}], "mark": {"type": "line", "style": "dash"}, "encoding": {"x": {"field": "h", "type": "quantitative", "title": null}, "y": {"field": "value", "type": "quantitative", "title": null}, "detail": {"field": "key"}}},
 {"mark": {"type": "line", "style": "med"}, "encoding": {"x": {"field": "h", "type": "quantitative", "title": null}, "y": {"field": "m", "type": "quantitative", "title": null}}}
]},
{"title": "GDP, manufacturing", "transform": [{"filter": "datum.p=='b3'"}], "layer": [
 {"mark": {"type": "area", "style": "band"}, "encoding": {"x": {"field": "h", "type": "quantitative", "scale": {"domain": [1, 20]}, "axis": {"values": [4, 8, 12, 16, 20]}, "title": null}, "y": {"field": "lo", "type": "quantitative", "scale": {"domain": [0, 0.15]}, "axis": {"values": [0, 0.05, 0.1, 0.15]}, "title": null}, "y2": {"field": "hi"}}},
 {"transform": [{"fold": ["lo", "hi"]}], "mark": {"type": "line", "style": "edge"}, "encoding": {"x": {"field": "h", "type": "quantitative", "title": null}, "y": {"field": "value", "type": "quantitative", "title": null}, "detail": {"field": "key"}}},
 {"transform": [{"aggregate": [{"op": "count", "as": "n"}]}], "mark": {"type": "rule", "style": "zero"}, "encoding": {"y": {"datum": 0, "type": "quantitative", "title": null}}},
 {"transform": [{"fold": ["dl", "du"]}], "mark": {"type": "line", "style": "dash"}, "encoding": {"x": {"field": "h", "type": "quantitative", "title": null}, "y": {"field": "value", "type": "quantitative", "title": null}, "detail": {"field": "key"}}},
 {"mark": {"type": "line", "style": "med"}, "encoding": {"x": {"field": "h", "type": "quantitative", "title": null}, "y": {"field": "m", "type": "quantitative", "title": null}}}
]},
{"title": "GDP, services", "transform": [{"filter": "datum.p=='b4'"}], "layer": [
 {"mark": {"type": "area", "style": "band"}, "encoding": {"x": {"field": "h", "type": "quantitative", "scale": {"domain": [1, 20]}, "axis": {"values": [4, 8, 12, 16, 20]}, "title": null}, "y": {"field": "lo", "type": "quantitative", "scale": {"domain": [0, 0.03]}, "axis": {"values": [0, 0.01, 0.02, 0.03]}, "title": null}, "y2": {"field": "hi"}}},
 {"transform": [{"fold": ["lo", "hi"]}], "mark": {"type": "line", "style": "edge"}, "encoding": {"x": {"field": "h", "type": "quantitative", "title": null}, "y": {"field": "value", "type": "quantitative", "title": null}, "detail": {"field": "key"}}},
 {"transform": [{"aggregate": [{"op": "count", "as": "n"}]}], "mark": {"type": "rule", "style": "zero"}, "encoding": {"y": {"datum": 0, "type": "quantitative", "title": null}}},
 {"transform": [{"fold": ["dl", "du"]}], "mark": {"type": "line", "style": "dash"}, "encoding": {"x": {"field": "h", "type": "quantitative", "title": null}, "y": {"field": "value", "type": "quantitative", "title": null}, "detail": {"field": "key"}}},
 {"mark": {"type": "line", "style": "med"}, "encoding": {"x": {"field": "h", "type": "quantitative", "title": null}, "y": {"field": "m", "type": "quantitative", "title": null}}}
]},
{"title": {"text": "GDP, utilities", "offset": -7.4}, "transform": [{"filter": "datum.p=='b5'"}], "layer": [
 {"mark": {"type": "area", "style": "band"}, "encoding": {"x": {"field": "h", "type": "quantitative", "scale": {"domain": [1, 20]}, "axis": {"values": [4, 8, 12, 16, 20]}, "title": null}, "y": {"field": "lo", "type": "quantitative", "scale": {"domain": [-0.05, 0.1]}, "axis": {"values": [-0.05, 0, 0.05, 0.1]}, "title": ["Demand shock", "(positive)"]}, "y2": {"field": "hi"}}},
 {"transform": [{"fold": ["lo", "hi"]}], "mark": {"type": "line", "style": "edge"}, "encoding": {"x": {"field": "h", "type": "quantitative", "title": null}, "y": {"field": "value", "type": "quantitative", "title": ["Demand shock", "(positive)"]}, "detail": {"field": "key"}}},
 {"transform": [{"aggregate": [{"op": "count", "as": "n"}]}], "mark": {"type": "rule", "style": "zero"}, "encoding": {"y": {"datum": 0, "type": "quantitative", "title": ["Demand shock", "(positive)"]}}},
 {"transform": [{"fold": ["dl", "du"]}], "mark": {"type": "line", "style": "dash"}, "encoding": {"x": {"field": "h", "type": "quantitative", "title": null}, "y": {"field": "value", "type": "quantitative", "title": ["Demand shock", "(positive)"]}, "detail": {"field": "key"}}},
 {"mark": {"type": "line", "style": "med"}, "encoding": {"x": {"field": "h", "type": "quantitative", "title": null}, "y": {"field": "m", "type": "quantitative", "title": ["Demand shock", "(positive)"]}}}
]},
{"title": "GDP, construction", "transform": [{"filter": "datum.p=='b6'"}], "layer": [
 {"mark": {"type": "area", "style": "band"}, "encoding": {"x": {"field": "h", "type": "quantitative", "scale": {"domain": [1, 20]}, "axis": {"values": [4, 8, 12, 16, 20]}, "title": null}, "y": {"field": "lo", "type": "quantitative", "scale": {"domain": [-0.05, 0.1]}, "axis": {"values": [-0.05, 0, 0.05, 0.1]}, "title": null}, "y2": {"field": "hi"}}},
 {"transform": [{"fold": ["lo", "hi"]}], "mark": {"type": "line", "style": "edge"}, "encoding": {"x": {"field": "h", "type": "quantitative", "title": null}, "y": {"field": "value", "type": "quantitative", "title": null}, "detail": {"field": "key"}}},
 {"transform": [{"aggregate": [{"op": "count", "as": "n"}]}], "mark": {"type": "rule", "style": "zero"}, "encoding": {"y": {"datum": 0, "type": "quantitative", "title": null}}},
 {"transform": [{"fold": ["dl", "du"]}], "mark": {"type": "line", "style": "dash"}, "encoding": {"x": {"field": "h", "type": "quantitative", "title": null}, "y": {"field": "value", "type": "quantitative", "title": null}, "detail": {"field": "key"}}},
 {"mark": {"type": "line", "style": "med"}, "encoding": {"x": {"field": "h", "type": "quantitative", "title": null}, "y": {"field": "m", "type": "quantitative", "title": null}}}
]},
{"title": {"text": ["GDP, industries,", "manufacturing"], "offset": -10}, "data": {"name": "ind"}, "transform": [{"filter": "datum.p=='b7'"}, {"fold": ["i1", "i2", "i3", "i4", "i5", "i6", "i7", "i8"]}], "layer": [
 {"mark": {"type": "line", "style": "ind"}, "encoding": {"x": {"field": "h", "type": "quantitative", "scale": {"domain": [1, 20]}, "axis": {"values": [4, 8, 12, 16, 20]}, "title": null}, "y": {"field": "value", "type": "quantitative", "scale": {"domain": [-0.05, 0.2]}, "axis": {"values": [0, 0.1, 0.2]}, "title": null}, "detail": {"field": "key"}}},
 {"transform": [{"aggregate": [{"op": "count", "as": "n"}]}], "mark": {"type": "rule", "style": "zero"}, "encoding": {"y": {"datum": 0, "type": "quantitative", "title": null}}}
]},
{"title": "GDP, industries, services", "data": {"name": "ind"}, "transform": [{"filter": "datum.p=='b8'"}, {"fold": ["i1", "i2", "i3", "i4", "i5", "i6", "i7", "i8"]}], "layer": [
 {"mark": {"type": "line", "style": "ind"}, "encoding": {"x": {"field": "h", "type": "quantitative", "scale": {"domain": [1, 20]}, "axis": {"values": [4, 8, 12, 16, 20]}, "title": null}, "y": {"field": "value", "type": "quantitative", "scale": {"domain": [-0.05, 0.1]}, "axis": {"values": [-0.05, 0, 0.05, 0.1]}, "title": null}, "detail": {"field": "key"}}},
 {"transform": [{"aggregate": [{"op": "count", "as": "n"}]}], "mark": {"type": "rule", "style": "zero"}, "encoding": {"y": {"datum": 0, "type": "quantitative", "title": null}}}
]},
{"title": {"text": ["Output in mining,", "Canada vs. USA"], "offset": -9.4}, "transform": [{"filter": "datum.p=='b9'"}], "layer": [
 {"mark": {"type": "area", "style": "band"}, "encoding": {"x": {"field": "h", "type": "quantitative", "scale": {"domain": [1, 20]}, "axis": {"values": [4, 8, 12, 16, 20]}, "title": null}, "y": {"field": "lo", "type": "quantitative", "scale": {"domain": [-0.1, 0.05]}, "axis": {"values": [-0.1, -0.05, 0, 0.05]}, "title": ["Demand shock", "(positive)"]}, "y2": {"field": "hi"}}},
 {"transform": [{"fold": ["lo", "hi"]}], "mark": {"type": "line", "style": "edge"}, "encoding": {"x": {"field": "h", "type": "quantitative", "title": null}, "y": {"field": "value", "type": "quantitative", "title": ["Demand shock", "(positive)"]}, "detail": {"field": "key"}}},
 {"transform": [{"aggregate": [{"op": "count", "as": "n"}]}], "mark": {"type": "rule", "style": "zero"}, "encoding": {"y": {"datum": 0, "type": "quantitative", "title": ["Demand shock", "(positive)"]}}},
 {"transform": [{"fold": ["dl", "du"]}], "mark": {"type": "line", "style": "dash"}, "encoding": {"x": {"field": "h", "type": "quantitative", "title": null}, "y": {"field": "value", "type": "quantitative", "title": ["Demand shock", "(positive)"]}, "detail": {"field": "key"}}},
 {"mark": {"type": "line", "style": "med"}, "encoding": {"x": {"field": "h", "type": "quantitative", "title": null}, "y": {"field": "m", "type": "quantitative", "title": ["Demand shock", "(positive)"]}}}
]},
{"title": {"text": ["Output in manufacturing,", "Canada vs. USA"], "offset": -3}, "transform": [{"filter": "datum.p=='b10'"}], "layer": [
 {"mark": {"type": "area", "style": "band"}, "encoding": {"x": {"field": "h", "type": "quantitative", "scale": {"domain": [1, 20]}, "axis": {"values": [4, 8, 12, 16, 20]}, "title": null}, "y": {"field": "lo", "type": "quantitative", "scale": {"domain": [-0.02, 0.04]}, "axis": {"values": [-0.02, 0, 0.02, 0.04]}, "title": null}, "y2": {"field": "hi"}}},
 {"transform": [{"fold": ["lo", "hi"]}], "mark": {"type": "line", "style": "edge"}, "encoding": {"x": {"field": "h", "type": "quantitative", "title": null}, "y": {"field": "value", "type": "quantitative", "title": null}, "detail": {"field": "key"}}},
 {"transform": [{"aggregate": [{"op": "count", "as": "n"}]}], "mark": {"type": "rule", "style": "zero"}, "encoding": {"y": {"datum": 0, "type": "quantitative", "title": null}}},
 {"transform": [{"fold": ["dl", "du"]}], "mark": {"type": "line", "style": "dash"}, "encoding": {"x": {"field": "h", "type": "quantitative", "title": null}, "y": {"field": "value", "type": "quantitative", "title": null}, "detail": {"field": "key"}}},
 {"mark": {"type": "line", "style": "med"}, "encoding": {"x": {"field": "h", "type": "quantitative", "title": null}, "y": {"field": "m", "type": "quantitative", "title": null}}}
]},
{"title": {"text": ["Output in construction,", "Canada vs. USA"], "offset": -3}, "transform": [{"filter": "datum.p=='b11'"}], "layer": [
 {"mark": {"type": "area", "style": "band"}, "encoding": {"x": {"field": "h", "type": "quantitative", "scale": {"domain": [1, 20]}, "axis": {"values": [4, 8, 12, 16, 20]}, "title": null}, "y": {"field": "lo", "type": "quantitative", "scale": {"domain": [-0.3, 0.1]}, "axis": {"values": [-0.2, -0.1, 0, 0.1]}, "title": null}, "y2": {"field": "hi"}}},
 {"transform": [{"fold": ["lo", "hi"]}], "mark": {"type": "line", "style": "edge"}, "encoding": {"x": {"field": "h", "type": "quantitative", "title": null}, "y": {"field": "value", "type": "quantitative", "title": null}, "detail": {"field": "key"}}},
 {"transform": [{"aggregate": [{"op": "count", "as": "n"}]}], "mark": {"type": "rule", "style": "zero"}, "encoding": {"y": {"datum": 0, "type": "quantitative", "title": null}}},
 {"transform": [{"fold": ["dl", "du"]}], "mark": {"type": "line", "style": "dash"}, "encoding": {"x": {"field": "h", "type": "quantitative", "title": null}, "y": {"field": "value", "type": "quantitative", "title": null}, "detail": {"field": "key"}}},
 {"mark": {"type": "line", "style": "med"}, "encoding": {"x": {"field": "h", "type": "quantitative", "title": null}, "y": {"field": "m", "type": "quantitative", "title": null}}}
]},
{"title": {"text": ["Output in services,", "Canada vs. USA"], "offset": 0.25}, "transform": [{"filter": "datum.p=='b12'"}], "layer": [
 {"mark": {"type": "area", "style": "band"}, "encoding": {"x": {"field": "h", "type": "quantitative", "scale": {"domain": [1, 20]}, "axis": {"values": [4, 8, 12, 16, 20]}, "title": null}, "y": {"field": "lo", "type": "quantitative", "scale": {"domain": [-0.045, 0.005]}, "axis": {"values": [-0.04, -0.02, 0]}, "title": null}, "y2": {"field": "hi"}}},
 {"transform": [{"fold": ["lo", "hi"]}], "mark": {"type": "line", "style": "edge"}, "encoding": {"x": {"field": "h", "type": "quantitative", "title": null}, "y": {"field": "value", "type": "quantitative", "title": null}, "detail": {"field": "key"}}},
 {"transform": [{"aggregate": [{"op": "count", "as": "n"}]}], "mark": {"type": "rule", "style": "zero"}, "encoding": {"y": {"datum": 0, "type": "quantitative", "title": null}}},
 {"transform": [{"fold": ["dl", "du"]}], "mark": {"type": "line", "style": "dash"}, "encoding": {"x": {"field": "h", "type": "quantitative", "title": null}, "y": {"field": "value", "type": "quantitative", "title": null}, "detail": {"field": "key"}}},
 {"mark": {"type": "line", "style": "med"}, "encoding": {"x": {"field": "h", "type": "quantitative", "title": null}, "y": {"field": "m", "type": "quantitative", "title": null}}}
]}
]
}
],
"config": {
 "font": "Liberation Sans",
 "view": {"stroke": null, "continuousWidth": 98, "continuousHeight": 44},
 "numberFormat": "~g",
 "axis": {"grid": false, "tickCount": 30, "labelFontSize": 6.5, "labelColor": "#333333", "domainColor": "#555555", "domainWidth": 0.7, "tickColor": "#555555", "tickSize": 2, "tickWidth": 0.6, "labelPadding": 1.5, "labelFlush": false, "labelOverlap": false, "titleFontSize": 9.5, "titleFontWeight": "normal", "titleColor": "#333333"},
 "axisY": {"titleX": -27, "titleLineHeight": 12},
 "title": {"fontSize": 9, "fontWeight": "normal", "color": "#222222", "offset": -1, "lineHeight": 10},
 "line": {"interpolate": "monotone"},
 "area": {"interpolate": "monotone"},
 "style": {
  "band": {"fill": "#d4d4d4", "color": "#d4d4d4"},
  "edge": {"stroke": "#9c9c9c", "color": "#9c9c9c", "strokeDash": [2, 1.5], "strokeWidth": 0.7},
  "zero": {"stroke": "#333333", "color": "#333333", "strokeWidth": 0.7},
  "dash": {"stroke": "#2c4b9b", "color": "#2c4b9b", "strokeDash": [4, 2.5], "strokeWidth": 1.3},
  "med": {"stroke": "#2c4b9b", "color": "#2c4b9b", "strokeWidth": 1.5},
  "ind": {"stroke": "#2c4b9b", "color": "#2c4b9b", "strokeDash": [5, 2, 1.5, 2], "strokeWidth": 1.1}
 }
}
}
